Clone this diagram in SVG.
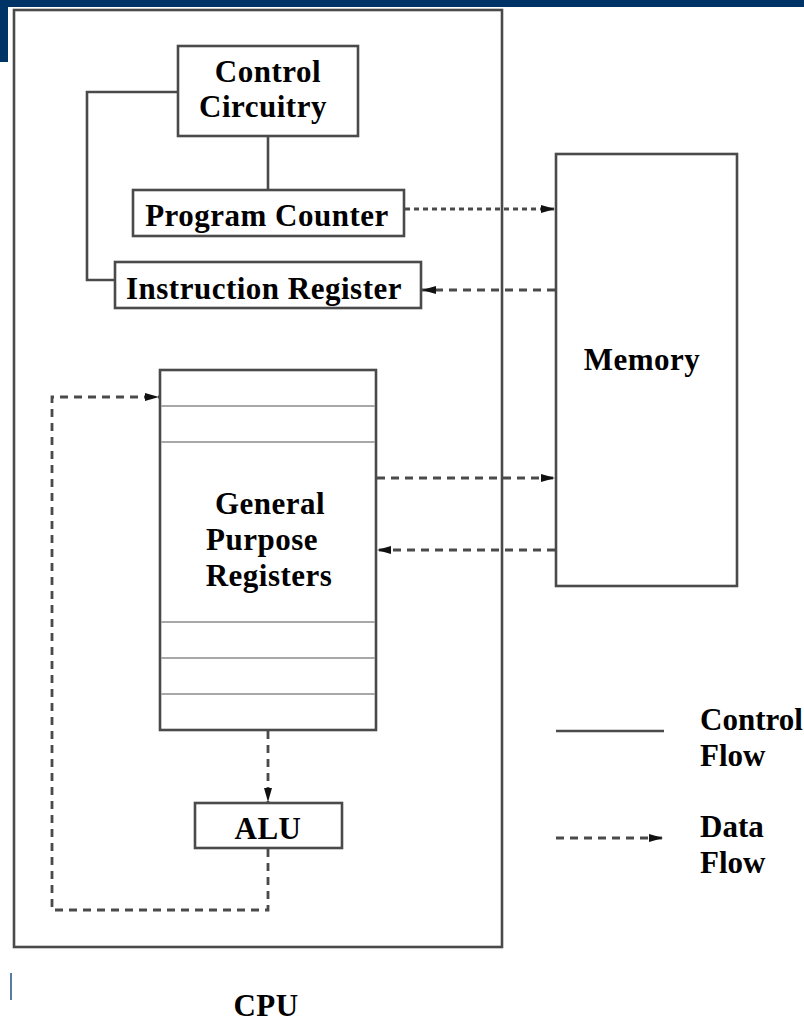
<svg xmlns="http://www.w3.org/2000/svg" width="804" height="1022" viewBox="0 0 804 1022">
  <style>
    .box { fill: #fff; stroke: #4a4a4a; stroke-width: 2.6; }
    .lbl { font-family: "Liberation Serif", "Times New Roman", serif; font-weight: bold; font-size: 31px; letter-spacing: 0.5px; fill: #000; text-anchor: middle; }
    .lgd { font-family: "Liberation Serif", "Times New Roman", serif; font-weight: bold; font-size: 31px; fill: #000; }
    .ctl { fill: none; stroke: #4a4a4a; stroke-width: 2.6; }
    .dat { fill: none; stroke: #4a4a4a; stroke-width: 2.8; stroke-dasharray: 8 6; }
    .dot { fill: none; stroke: #4a4a4a; stroke-width: 2.8; stroke-dasharray: 5 4; }
    .reg { stroke: #a8a8a8; stroke-width: 2.2; }
  </style>
  <defs>
    <marker id="arrow" viewBox="0 0 14 8" refX="14" refY="4" markerWidth="14" markerHeight="8" markerUnits="userSpaceOnUse" orient="auto">
      <path d="M0,0 L14,4 L0,8 z" fill="#111"/>
    </marker>
  </defs>

  <!-- slide frame -->
  <rect x="0" y="0" width="804" height="1022" fill="#fff"/>
  <rect x="0" y="0" width="804" height="7" fill="#003366"/>
  <rect x="0" y="0" width="8" height="62" fill="#003366"/>
  <line x1="11" y1="973" x2="11" y2="1000" stroke="#1f4f85" stroke-width="1.5"/>

  <!-- CPU enclosure -->
  <g id="cpu">
    <rect class="box" x="14" y="10" width="488" height="937"/>
    <text class="lbl" x="266" y="1016">CPU</text>
  </g>

  <!-- connectors -->
  <g id="connectors">
    <!-- control flow -->
    <line class="ctl" x1="268" y1="136" x2="268" y2="190"/>
    <polyline class="ctl" points="178,92 87,92 87,280 115,280"/>
    <!-- data flow -->
    <line class="dot" x1="405" y1="209" x2="555" y2="209" marker-end="url(#arrow)"/>
    <line class="dat" x1="555" y1="290" x2="422" y2="290" marker-end="url(#arrow)"/>
    <line class="dat" x1="377" y1="478" x2="555" y2="478" marker-end="url(#arrow)"/>
    <line class="dat" x1="555" y1="550" x2="377" y2="550" marker-end="url(#arrow)"/>
    <line class="dat" x1="268" y1="731" x2="268" y2="802" marker-end="url(#arrow)"/>
    <polyline class="dat" points="268,849 268,910 52,910 52,397 159,397" marker-end="url(#arrow)"/>
  </g>

  <g id="control-circuitry">
    <rect class="box" x="178" y="46" width="180" height="90"/>
    <text class="lbl" x="268" y="82">Control</text>
    <text class="lbl" x="263" y="117">Circuitry</text>
  </g>

  <g id="program-counter">
    <rect class="box" x="133" y="190" width="271" height="46"/>
    <text class="lbl" x="267" y="226">Program Counter</text>
  </g>

  <g id="instruction-register">
    <rect class="box" x="115" y="262" width="306" height="46"/>
    <text class="lbl" x="264" y="299">Instruction Register</text>
  </g>

  <g id="memory">
    <rect class="box" x="556" y="154" width="181" height="432"/>
    <text class="lbl" x="642" y="370">Memory</text>
  </g>

  <g id="general-purpose-registers">
    <rect class="box" x="160" y="370" width="216" height="360"/>
    <line class="reg" x1="161" y1="406" x2="375" y2="406"/>
    <line class="reg" x1="161" y1="442" x2="375" y2="442"/>
    <line class="reg" x1="161" y1="622" x2="375" y2="622"/>
    <line class="reg" x1="161" y1="658" x2="375" y2="658"/>
    <line class="reg" x1="161" y1="694" x2="375" y2="694"/>
    <text class="lbl" x="270" y="514">General</text>
    <text class="lbl" x="262" y="550">Purpose</text>
    <text class="lbl" x="269" y="586">Registers</text>
  </g>

  <g id="alu">
    <rect class="box" x="195" y="803" width="147" height="45"/>
    <text class="lbl" x="268" y="839">ALU</text>
  </g>

  <!-- legend -->
  <g id="legend">
    <line class="ctl" x1="556" y1="731" x2="664" y2="731"/>
    <text class="lgd" x="700" y="730">Control</text>
    <text class="lgd" x="700" y="766">Flow</text>
    <line class="dat" x1="556" y1="838" x2="663" y2="838" marker-end="url(#arrow)"/>
    <text class="lgd" x="700" y="837">Data</text>
    <text class="lgd" x="700" y="873">Flow</text>
  </g>
</svg>
